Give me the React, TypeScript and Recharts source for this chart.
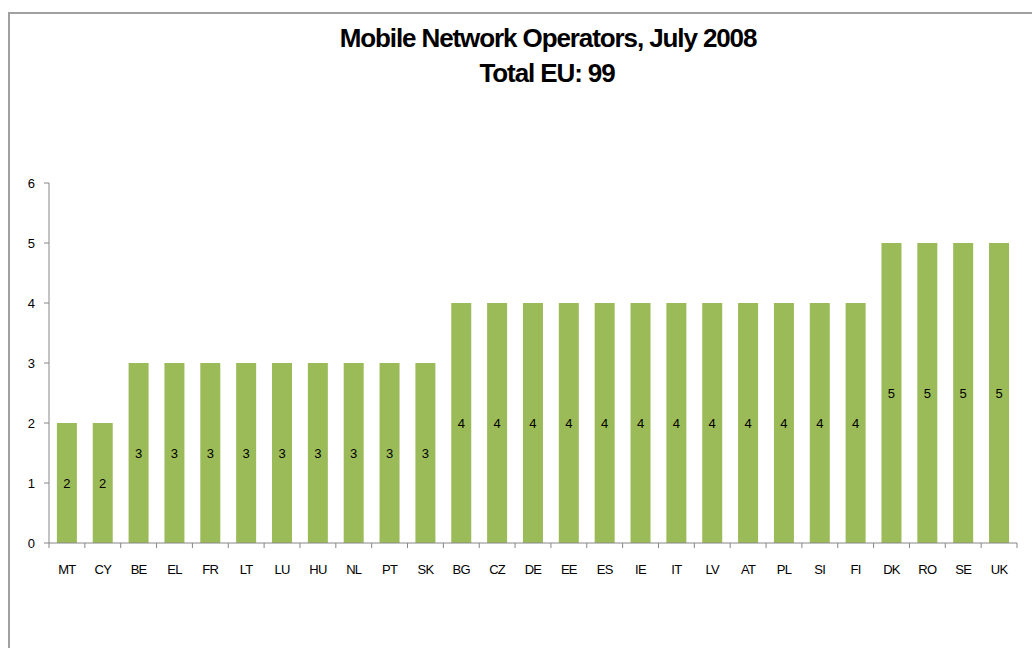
import React from "react";
import { BarChart, Bar, XAxis, YAxis, LabelList } from "recharts";

const countries = [
  "MT", "CY", "BE", "EL", "FR", "LT", "LU", "HU", "NL", "PT", "SK",
  "BG", "CZ", "DE", "EE", "ES", "IE", "IT", "LV", "AT", "PL", "SI", "FI",
  "DK", "RO", "SE", "UK",
];
const operators = [
  2, 2, 3, 3, 3, 3, 3, 3, 3, 3, 3,
  4, 4, 4, 4, 4, 4, 4, 4, 4, 4, 4, 4,
  5, 5, 5, 5,
];
const yTicks = [0, 1, 2, 3, 4, 5, 6];

const data = countries.map((c, i) => ({ country: c, value: operators[i] }));

const W = 1032;
const H = 648;
const LEFT = 49;
const RIGHT = 15;
const STEP = (W - LEFT - RIGHT) / countries.length;
const AXIS = "#868686";
const FONT = "'Liberation Sans', Arial, sans-serif";

function CountryTick(props: any) {
  const { x, y, payload, index } = props;
  const half = STEP / 2;
  return (
    <g>
      <line x1={x - half} x2={x - half} y1={y} y2={y + 5} stroke={AXIS} />
      {index === countries.length - 1 && (
        <line x1={x + half} x2={x + half} y1={y} y2={y + 5} stroke={AXIS} />
      )}
      <text
        x={x}
        y={y + 31}
        textAnchor="middle"
        fontSize={13}
        fontFamily={FONT}
        letterSpacing={-0.7}
        fill="#000"
      >
        {payload.value}
      </text>
    </g>
  );
}

const titleStyle: React.CSSProperties = {
  position: "absolute",
  transform: "translateX(-50%)",
  whiteSpace: "nowrap",
  fontSize: 26,
  fontWeight: "bold",
  letterSpacing: -1.1,
  lineHeight: "30px",
};

export default function App() {
  return (
    <div
      style={{
        position: "absolute",
        left: 0,
        top: 0,
        width: W,
        height: H,
        overflow: "hidden",
        background: "#fff",
        fontFamily: FONT,
      }}
    >
      <div
        style={{
          position: "absolute",
          left: 8,
          top: 12,
          width: 1200,
          height: 800,
          borderLeft: "2px solid #a0a0a0",
          borderTop: "2px solid #a0a0a0",
        }}
      />
      <div style={{ ...titleStyle, left: 548, top: 23 }}>
        Mobile Network Operators, July 2008
      </div>
      <div style={{ ...titleStyle, left: 547, top: 58 }}>Total EU: 99</div>
      <div style={{ position: "absolute", left: 0, top: 0 }}>
        <BarChart
          width={W}
          height={H}
          data={data}
          margin={{ top: 183, right: RIGHT, bottom: 65, left: 0 }}
          barCategoryGap="22%"
        >
          <XAxis
            dataKey="country"
            interval={0}
            height={40}
            stroke={AXIS}
            tickLine={false}
            tickSize={0}
            tickMargin={0}
            tick={<CountryTick />}
          />
          <YAxis
            domain={[0, 6]}
            ticks={yTicks}
            width={LEFT}
            stroke={AXIS}
            tickSize={5}
            tickMargin={9}
            tick={{ fill: "#000", fontSize: 13, fontFamily: FONT }}
          />
          <Bar dataKey="value" fill="#9bbb59" isAnimationActive={false}>
            <LabelList
              dataKey="value"
              position="center"
              fill="#000"
              fontSize={13}
              fontFamily={FONT}
            />
          </Bar>
        </BarChart>
      </div>
    </div>
  );
}
